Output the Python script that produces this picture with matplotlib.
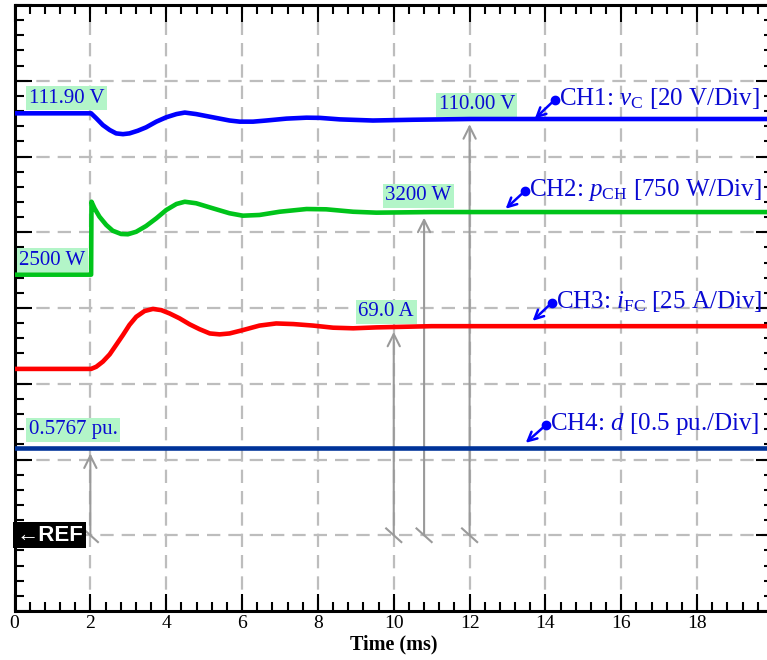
import matplotlib
matplotlib.use('Agg')
import matplotlib.pyplot as plt
from matplotlib.ticker import MultipleLocator

plt.rcParams['mathtext.fontset'] = 'custom'
plt.rcParams['mathtext.rm'] = 'Liberation Serif'
plt.rcParams['mathtext.it'] = 'Liberation Serif:italic'
plt.rcParams['font.family'] = ['Liberation Serif', 'DejaVu Serif']

# ---------------- data (physical units) ----------------
REF_DIV = 1.0                      # reference level (division)
scale_vc, scale_p, scale_i, scale_d = 20.0, 750.0, 25.0, 0.5   # units / div

t_vc = [0, 2.02, 2.155, 2.33, 2.51, 2.68, 2.86, 3.03, 3.25, 3.47, 3.74, 4.0,
        4.27, 4.49, 4.79, 5.23, 5.67, 5.94, 6.29, 6.64, 7.17, 7.70, 8.05,
        8.58, 9.45, 10.5, 12.0, 15.0, 20.0]
vc = [111.4, 111.4, 110.1, 108.3, 107.0, 106.1, 105.9, 106.1, 106.8, 107.7,
      109.2, 110.35, 111.2, 111.6, 111.2, 110.35, 109.5, 109.2, 109.2, 109.5,
      110.0, 110.25, 110.2, 109.8, 109.5, 109.7, 109.9, 109.9, 109.9]

t_p = [0, 2.02, 2.03, 2.11, 2.24, 2.42, 2.59, 2.81, 2.99, 3.21, 3.47, 3.74,
       4.0, 4.27, 4.49, 4.79, 5.23, 5.67, 6.02, 6.46, 6.99, 7.70, 8.22, 8.93,
       9.54, 11.0, 14.0, 20.0]
p_ch = [2580, 2580, 3302, 3237, 3154, 3072, 3015, 2983, 2980, 3005, 3062,
        3138, 3220, 3280, 3302, 3287, 3237, 3188, 3164, 3171, 3203, 3230,
        3227, 3203, 3194, 3200, 3200, 3200]

t_i = [0, 2.02, 2.155, 2.33, 2.51, 2.68, 2.86, 3.03, 3.21, 3.43, 3.65, 3.87,
       4.09, 4.35, 4.62, 4.88, 5.15, 5.41, 5.67, 6.02, 6.46, 6.90, 7.35,
       7.87, 8.40, 8.93, 9.54, 11.0, 14.0, 20.0]
i_fc = [54.9, 54.9, 55.6, 57.3, 59.7, 62.8, 66.1, 69.4, 72.1, 74.0, 74.7,
        74.3, 73.2, 71.6, 69.6, 68.0, 66.6, 66.3, 66.6, 67.7, 69.2, 69.9,
        69.7, 69.2, 68.5, 68.3, 68.6, 69.0, 69.0, 69.0]

t_d = [0, 20.0]
d_duty = [0.5767, 0.5767]

# cursor read-outs from REF up to the traces
cursor_times = [2.0, 10.0, 10.8, 12.0]
cursor_values = [0.5767, 69.0, 3200.0, 110.00]
cursor_scales = [scale_d, scale_i, scale_p, scale_vc]

x_ticks = [0, 2, 4, 6, 8, 10, 12, 14, 16, 18]

ch_labels = [r'CH1: $v_{\mathrm{C}}$ [20 V/Div]',
             r'CH2: $p_{\mathrm{CH}}$ [750 W/Div]',
             r'CH3: $i_{\mathrm{FC}}$ [25 A/Div]',
             r'CH4: $d$ [0.5 pu./Div]']

value_texts = ['111.90 V', '2500 W', '0.5767 pu.', '110.00 V', '3200 W', '69.0 A']

# ---------------- figure ----------------
W, H = 767, 660
fig = plt.figure(figsize=(W / 100, H / 100), dpi=100)
ax = fig.add_axes([14.5 / W, 49 / H, 758.5 / W, 606 / H])
ax.set_xlim(0, 20)
ax.set_ylim(0, 8)


def to_div(vals, s):
    return [REF_DIV + v / s for v in vals]


# grid
for xv in range(2, 20, 2):
    ax.axvline(xv, color='#bdbdbd', lw=1.6, ls=(0, (6, 3.6)), zorder=1)
for yv in range(1, 8):
    ax.axhline(yv, color='#bdbdbd', lw=1.6, ls=(0, (6, 3.6)), zorder=1)

c_blue = '#0000ff'
c_green = '#00c41a'
c_red = '#ff0000'
c_navy = '#003399'
txt_blue = '#0a0ad2'
box_green = '#b3f5c8'
gray = '#9a9a9a'

LW = 3.3
ax.plot(t_vc, to_div(vc, scale_vc), color=c_blue, lw=LW, zorder=4,
        solid_joinstyle='round')
ax.plot(t_p, to_div(p_ch, scale_p), color=c_green, lw=LW, zorder=4,
        solid_joinstyle='round')
ax.plot(t_i, to_div(i_fc, scale_i), color=c_red, lw=LW, zorder=4,
        solid_joinstyle='round')
ax.plot(t_d, to_div(d_duty, scale_d), color=c_navy, lw=LW, zorder=4)

# cursor arrows from REF up to traces
for tc, vv, sc in zip(cursor_times, cursor_values, cursor_scales):
    top = REF_DIV + vv / sc
    ax.annotate('', xy=(tc, top), xytext=(tc, REF_DIV),
                arrowprops=dict(arrowstyle='->', color=gray, lw=1.5,
                                mutation_scale=22, shrinkA=0, shrinkB=4),
                zorder=3)
    ax.plot([tc - 0.2, tc + 0.2], [REF_DIV + 0.09, REF_DIV - 0.09],
            color=gray, lw=1.5, zorder=3)

# value boxes
box = dict(boxstyle='square,pad=0.12', fc=box_green, ec='none')
val_pos = [(0.37, 6.77), (0.13, 4.63), (0.37, 2.39), (11.18, 6.68),
           (9.78, 5.48), (9.07, 3.95)]
for (tx, ty), s in zip(val_pos, value_texts):
    ax.text(tx, ty, s, color=txt_blue, fontsize=15, ha='left', va='center',
            bbox=box, zorder=3)

# channel labels with dot + arrow
dots = [(14.25, 6.75), (13.46, 5.545), (14.17, 4.07), (14.01, 2.455)]
tips = [(13.72, 6.50), (12.95, 5.31), (13.66, 3.83), (13.48, 2.22)]
for (dx, dy), (tx, ty), lab in zip(dots, tips, ch_labels):
    ax.annotate('', xy=(tx, ty), xytext=(dx, dy),
                arrowprops=dict(arrowstyle='->', color=c_blue, lw=1.8,
                                mutation_scale=16, shrinkA=0, shrinkB=0),
                zorder=6)
    ax.plot(dx, dy, 'o', color=c_blue, ms=6, zorder=6)
    ax.annotate(lab, xy=(dx, dy), xytext=(3, 1), textcoords='offset points',
                color=txt_blue, fontsize=18, ha='left', va='center', zorder=6,
                annotation_clip=False)

# REF marker
ax.text(0.04, REF_DIV, '\u2190REF', color='white', fontsize=16,
        fontweight='bold', family=['Liberation Sans', 'DejaVu Sans'],
        ha='left', va='center', zorder=7,
        bbox=dict(boxstyle='square,pad=0.12', fc='black', ec='none'))

# axes styling
for sp in ax.spines.values():
    sp.set_linewidth(2.2)
    sp.set_color('black')
ax.set_xticks(x_ticks)
ax.set_xticklabels([str(v) for v in x_ticks])
ax.xaxis.set_minor_locator(MultipleLocator(0.4))
ax.set_yticks(range(0, 9))
ax.yaxis.set_minor_locator(MultipleLocator(0.2))
ax.set_yticklabels([])
ax.tick_params(which='major', direction='in', length=12, width=1.5,
               top=True, right=True, labelsize=14, pad=3)
ax.tick_params(which='minor', direction='in', length=6.5, width=1.5,
               top=True, right=True)
ax.set_xlabel('Time (ms)', fontsize=14.5, fontweight='bold', labelpad=2)

fig.savefig('out.png', dpi=100)
